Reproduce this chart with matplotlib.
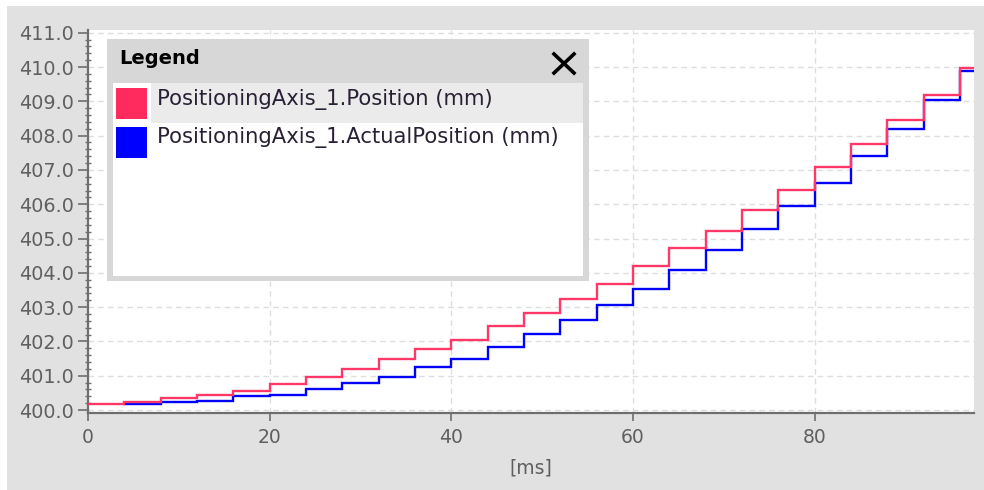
import matplotlib
matplotlib.use('Agg')
import matplotlib.pyplot as plt
from matplotlib.patches import Rectangle
from matplotlib.ticker import MultipleLocator, FixedLocator
from matplotlib.lines import Line2D

# ---------------- data ----------------
position_times = [0, 4, 8, 12, 16, 20, 24, 28, 32, 36, 40, 44, 48,
                  52, 56, 60, 64, 68, 72, 76, 80, 84, 88, 92, 96]
position_values = [400.17, 400.23, 400.34, 400.45, 400.55, 400.75, 400.96,
                   401.19, 401.48, 401.77, 402.04, 402.44, 402.84, 403.24,
                   403.68, 404.20, 404.72, 405.23, 405.84, 406.41, 407.09,
                   407.77, 408.47, 409.18, 409.98]
actual_times = [4, 8, 12, 16, 20, 24, 28, 32, 36, 40, 44, 48,
                52, 56, 60, 64, 68, 72, 76, 80, 84, 88, 92, 96]
actual_values = [400.17, 400.24, 400.27, 400.40, 400.45, 400.62, 400.80,
                 400.97, 401.26, 401.48, 401.84, 402.21, 402.62, 403.07,
                 403.52, 404.08, 404.66, 405.27, 405.95, 406.63, 407.40,
                 408.19, 409.03, 409.89]
end_time = 98
x_ticks = [0, 20, 40, 60, 80]
y_ticks = [400, 401, 402, 403, 404, 405, 406, 407, 408, 409, 410, 411]
series_labels = ['PositioningAxis_1.Position (mm)',
                 'PositioningAxis_1.ActualPosition (mm)']
x_label = '[ms]'
legend_title = 'Legend'

# ---------------- style ----------------
RED_LINE = '#ff3868'
RED_SWATCH = '#ff2b5f'
BLUE = '#0000ff'
AXIS_GRAY = '#6e6e6e'
TEXT_GRAY = '#5f5f5f'
FONT = 'DejaVu Sans'

W, H = 984, 490
fig = plt.figure(figsize=(W / 100, H / 100), dpi=100)
fig.patch.set_facecolor('white')


def frac(l, t, r, b):
    return [l / W, 1 - b / H, (r - l) / W, (b - t) / H]


# background panel
bg = fig.add_axes([0, 0, 1, 1], zorder=0)
bg.set_xlim(0, W)
bg.set_ylim(H, 0)
bg.axis('off')
bg.add_patch(Rectangle((7, 6), W - 7, H - 6, color='#e1e1e1', lw=0))

# main axes
ax = fig.add_axes(frac(88, 30, 974, 413), zorder=1)
ax.set_facecolor('white')

ax.step(position_times + [end_time], position_values + [position_values[-1]],
        where='post', color=RED_LINE, lw=1.7, zorder=3, solid_joinstyle='miter')
ax.step(actual_times + [end_time], actual_values + [actual_values[-1]],
        where='post', color=BLUE, lw=1.7, zorder=2, solid_joinstyle='miter')

ax.set_xlim(0, 97.54)
ax.set_ylim(399.913, 411.08)

ax.xaxis.set_major_locator(FixedLocator(x_ticks))
ax.yaxis.set_major_locator(FixedLocator(y_ticks))
ax.yaxis.set_minor_locator(MultipleLocator(0.2))
ax.set_xticklabels([str(v) for v in x_ticks])
ax.set_yticklabels(['%.1f' % v for v in y_ticks])

ax.grid(True, which='major', color='#dedede', lw=1.0, ls=(0, (4, 3)), zorder=0)
ax.set_axisbelow(True)

for s in ['top', 'right']:
    ax.spines[s].set_visible(False)
for s in ['left', 'bottom']:
    ax.spines[s].set_color(AXIS_GRAY)
    ax.spines[s].set_linewidth(1.6)

ax.tick_params(axis='y', which='major', direction='out', length=7, width=1.2,
               color=AXIS_GRAY, pad=3, labelsize=13.8, labelcolor=TEXT_GRAY)
ax.tick_params(axis='y', which='minor', direction='inout', length=5, width=1.0,
               color=AXIS_GRAY)
ax.tick_params(axis='x', which='major', direction='out', length=6, width=1.2,
               color=AXIS_GRAY, pad=5, labelsize=13.5, labelcolor=TEXT_GRAY)
for lab in ax.get_xticklabels() + ax.get_yticklabels():
    lab.set_fontfamily(FONT)

ax.set_xlabel(x_label, fontsize=13.5, color=TEXT_GRAY, fontfamily=FONT, labelpad=8)

# legend overlay
ov = fig.add_axes([0, 0, 1, 1], zorder=5)
ov.set_xlim(0, W)
ov.set_ylim(H, 0)
ov.axis('off')
ov.patch.set_alpha(0)

ov.add_patch(Rectangle((107, 39), 482, 242, color='#d7d7d7', lw=0))
ov.add_patch(Rectangle((113, 83), 470, 193, color='white', lw=0))
ov.add_patch(Rectangle((151, 83), 432, 40, color='#ebebeb', lw=0))
ov.add_patch(Rectangle((116, 88), 31, 31, color=RED_SWATCH, lw=0))
ov.add_patch(Rectangle((116, 127), 31, 31, color=BLUE, lw=0))

ov.text(119, 59, legend_title, fontsize=14, fontweight='bold', color='black',
        va='center', ha='left', fontfamily=FONT)
ov.add_line(Line2D([554, 574], [54, 73], color='black', lw=2.6))
ov.add_line(Line2D([554, 574], [73, 54], color='black', lw=2.6))

ov.text(157, 99, series_labels[0], fontsize=15.2, color='#2a2035',
        va='center', ha='left', fontfamily=FONT)
ov.text(157, 137, series_labels[1], fontsize=15.2, color='#2a2035',
        va='center', ha='left', fontfamily=FONT)

fig.savefig('out.png', dpi=100)
